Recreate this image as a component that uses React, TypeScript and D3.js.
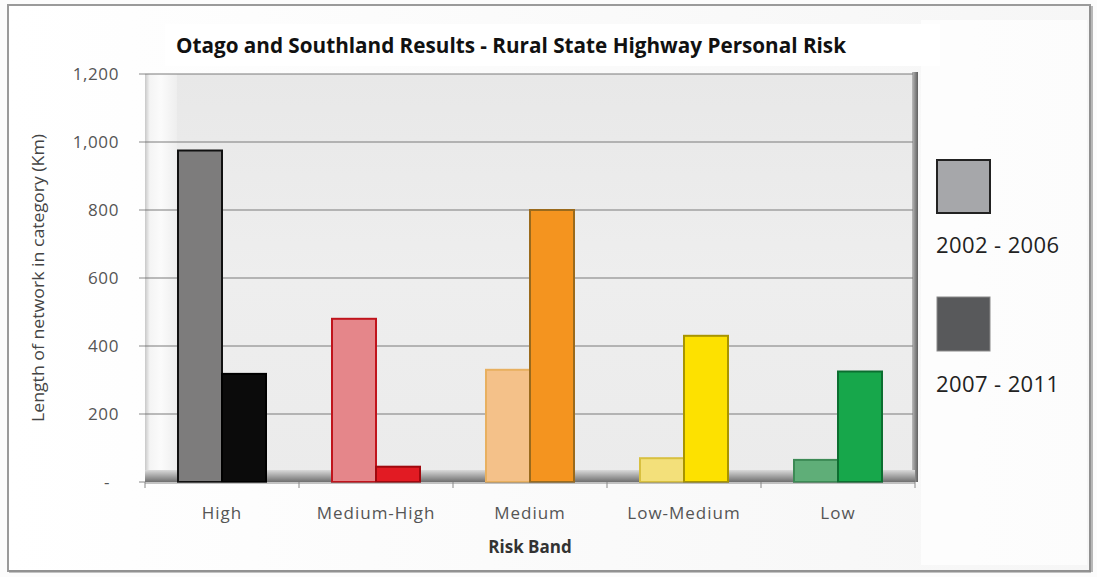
import React from "react";
import * as d3 from "d3";

const categories = ["High", "Medium-High", "Medium", "Low-Medium", "Low"];
const seriesNames = ["2002 - 2006", "2007 - 2011"];
const values2002 = [975, 480, 330, 70, 65];
const values2007 = [318, 45, 800, 430, 325];
const yTicks = [0, 200, 400, 600, 800, 1000, 1200];
const fills2002 = ["#7d7c7c", "#e5868a", "#f4c189", "#f3e07a", "#5fae78"];
const strokes2002 = ["#111111", "#c0141c", "#e8b060", "#d8c040", "#3c8a55"];
const fills2007 = ["#0b0b0b", "#e21b23", "#f4941f", "#fde100", "#17a74b"];
const strokes2007 = ["#000000", "#a0080e", "#9a6a1c", "#a89400", "#0c6e30"];

const FONT = "'Open Sans', sans-serif";

export default function App() {
  const W = 1097, H = 577;
  const left = 145, right = 915, top = 74, bottom = 482;
  const x = d3.scaleBand<string>().domain(categories).range([left, right]);
  const y = d3.scaleLinear().domain([0, 1200]).range([bottom, top]);
  const barW = 44;
  const fmt = (v: number) => (v === 0 ? "-" : d3.format(",")(v));

  return (
    <svg width={W} height={H} style={{ position: "absolute", left: 0, top: 0 }}>
      <defs>
        <linearGradient id="wall" x1="0" x2="0" y1="0" y2="1">
          <stop offset="0" stopColor="#e8e8e8" />
          <stop offset="0.5" stopColor="#eeeeee" />
          <stop offset="1" stopColor="#ebebeb" />
        </linearGradient>
        <linearGradient id="leftwall" x1="0" x2="1" y1="0" y2="0">
          <stop offset="0" stopColor="#c8c8c8" />
          <stop offset="0.15" stopColor="#f4f4f4" />
          <stop offset="0.5" stopColor="#fbfbfb" />
          <stop offset="1" stopColor="#eeeeee" />
        </linearGradient>
        <linearGradient id="floor" x1="0" x2="0" y1="0" y2="1">
          <stop offset="0" stopColor="#dadada" />
          <stop offset="1" stopColor="#6f6f6f" />
        </linearGradient>
        <linearGradient id="rightedge" x1="0" x2="1" y1="0" y2="0">
          <stop offset="0" stopColor="#bbbbbb" />
          <stop offset="1" stopColor="#5f5f5f" />
        </linearGradient>
        <linearGradient id="frameShade" x1="0" x2="1" y1="0" y2="0">
          <stop offset="0" stopColor="#ffffff" />
          <stop offset="1" stopColor="#f6f6f6" />
        </linearGradient>
      </defs>

      <rect x={0} y={0} width={W} height={H} fill="#fcfcfc" />
      {/* outer frame */}
      <rect x={8} y={5} width={1082} height={566} fill="url(#frameShade)" stroke="#9a9a9a" strokeWidth={2} />
      <rect x={1089} y={6} width={4} height={566} fill="#8a8a8a" opacity={0.6} />
      <rect x={9} y={570} width={1082} height={3} fill="#8a8a8a" opacity={0.5} />

      {/* plot area */}
      <rect x={left} y={top} width={right - left} height={bottom - top} fill="url(#wall)" />
      <rect x={left} y={top} width={32} height={bottom - top} fill="url(#leftwall)" />
      <rect x={right - 3} y={top - 2} width={6} height={bottom - top + 2} fill="url(#rightedge)" />
      <rect x={left} y={bottom - 12} width={right - left} height={12} fill="url(#floor)" />

      {/* gridlines */}
      {yTicks.filter((t) => t > 0).map((t) => (
        <line key={t} x1={left} x2={right - 2} y1={y(t)} y2={y(t)} stroke="#7a7a7a" strokeWidth={1} />
      ))}

      {/* y ticks and labels */}
      {yTicks.map((t) => (
        <g key={"yt" + t}>
          <line x1={139} x2={left} y1={y(t)} y2={y(t)} stroke="#888" />
          <text x={t === 0 ? 110 : 119} y={y(t)} dy="0.35em" textAnchor="end"
            fontFamily={FONT} fontSize={17} letterSpacing={0.6} fill="#555">{fmt(t)}</text>
        </g>
      ))}

      {/* bars */}
      {categories.map((c, i) => {
        const cx = (x(c) as number) + x.bandwidth() / 2;
        const v1 = values2002[i], v2 = values2007[i];
        return (
          <g key={c}>
            <rect x={cx - barW} y={y(v1)} width={barW} height={bottom - y(v1)}
              fill={fills2002[i]} stroke={strokes2002[i]} strokeWidth={2} />
            <rect x={cx} y={y(v2)} width={barW} height={bottom - y(v2)}
              fill={fills2007[i]} stroke={strokes2007[i]} strokeWidth={2} />
          </g>
        );
      })}

      {/* x axis */}
      <line x1={left} x2={right} y1={bottom + 1} y2={bottom + 1} stroke="#888" />
      {d3.range(categories.length + 1).map((k) => {
        const xx = left + k * x.bandwidth();
        return <line key={"xt" + k} x1={xx} x2={xx} y1={bottom} y2={bottom + 6} stroke="#888" />;
      })}
      {categories.map((c) => (
        <text key={"xl" + c} x={(x(c) as number) + x.bandwidth() / 2} y={519} textAnchor="middle"
          fontFamily={FONT} fontSize={17} letterSpacing={1} fill="#555">{c}</text>
      ))}
      <text x={530} y={553} textAnchor="middle" fontFamily={FONT}
        fontSize={17} fontWeight="bold" fill="#333">Risk Band</text>

      {/* y axis title */}
      <text transform="translate(44,278) rotate(-90)" textAnchor="middle"
        fontFamily={FONT} fontSize={16} fill="#444" textLength={288} lengthAdjust="spacingAndGlyphs">
        Length of network in category (Km)
      </text>

      {/* title */}
      <rect x={165} y={24} width={775} height={42} fill="#ffffff" />
      <text x={176} y={53} fontFamily={FONT} fontSize={21} fontWeight="bold"
        fill="#111" textLength={670} lengthAdjust="spacingAndGlyphs">
        Otago and Southland Results - Rural State Highway Personal Risk
      </text>

      {/* legend */}
      <rect x={921} y={20} width={166} height={545} fill="#ffffff" opacity={0.7} />
      <rect x={937} y={160} width={53} height={53} fill="#a6a7aa" stroke="#222" strokeWidth={2} />
      <text x={936} y={253} fontFamily={FONT} fontSize={22} letterSpacing={0.4} fill="#222">{seriesNames[0]}</text>
      <rect x={937} y={297} width={53} height={54} fill="#58595b" stroke="#8a8a8a" strokeWidth={1} />
      <text x={936} y={392} fontFamily={FONT} fontSize={22} letterSpacing={0.4} fill="#222">{seriesNames[1]}</text>
    </svg>
  );
}
